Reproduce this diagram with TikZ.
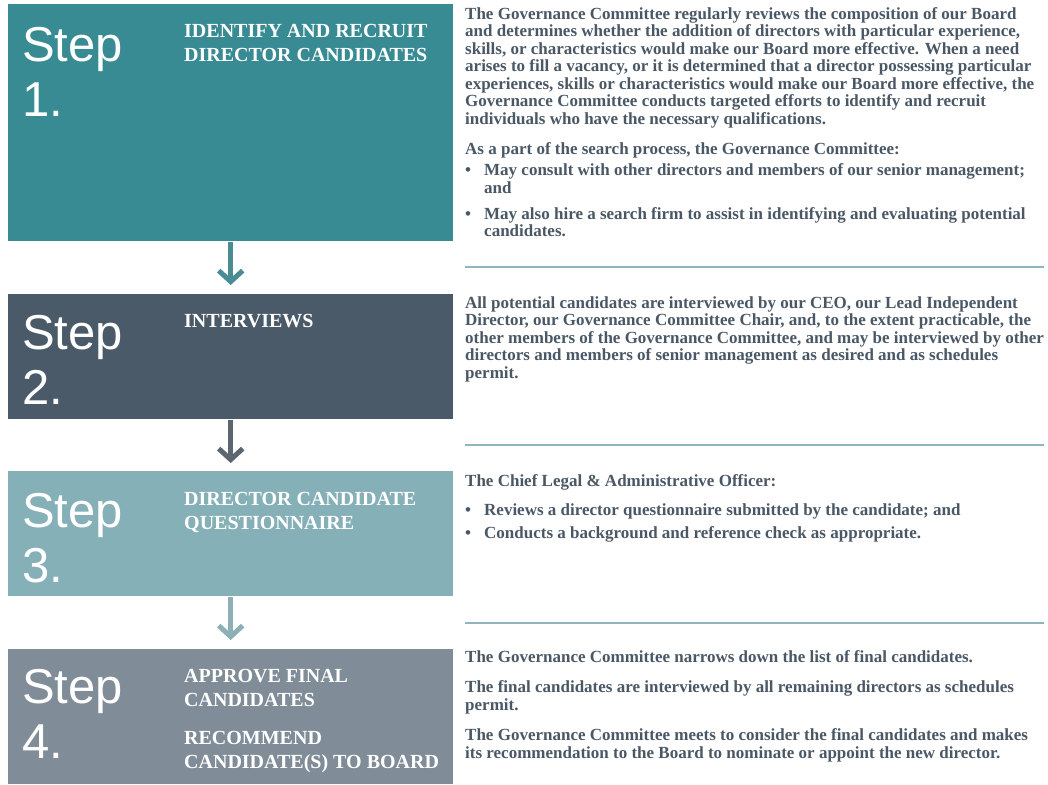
\documentclass[tikz,border=0pt]{standalone}
\usepackage{fontspec}
\setmainfont{Liberation Serif}
\newfontfamily\stepfont{Liberation Sans}
\usetikzlibrary{arrows.meta,positioning}
\definecolor{stepA}{HTML}{388A93}
\definecolor{stepB}{HTML}{4A5A68}
\definecolor{stepC}{HTML}{86B0B7}
\definecolor{stepD}{HTML}{808C98}
\definecolor{arrowA}{HTML}{4A8C94}
\definecolor{arrowB}{HTML}{5C6670}
\definecolor{arrowC}{HTML}{8DB0B6}
\definecolor{rulecol}{HTML}{8FB6BC}
\definecolor{bodytext}{HTML}{4A5866}
\newcommand{\bul}{\makebox[19pt][l]{\textbullet}}
\begin{document}
\begin{tikzpicture}[x=1pt,y=-1pt]
\tikzstyle{every node}+=[inner sep=0pt]
\tikzstyle{stepbox}=[anchor=north west,minimum width=445pt]
\tikzstyle{stepnum}=[anchor=north west,text=white,font=\stepfont\fontsize{49}{55}\selectfont,align=left]
\tikzstyle{steptitle}=[anchor=north west,text=white,font=\bfseries\fontsize{20}{24}\selectfont,align=left]
\tikzstyle{body}=[anchor=north west,text=bodytext,font=\bfseries\fontsize{17}{17.5}\selectfont,align=left]
\tikzstyle{flow}=[line width=5pt,-{Straight Barb[length=11pt,width=24pt,line width=5pt]}]
\tikzstyle{rule}=[draw=rulecol,line width=2pt]
\useasboundingbox (0,0) rectangle (1048,784);
\node[stepbox,fill=stepA,minimum height=237pt] (s1) at (8,4) {};
\node[stepbox,fill=stepB,minimum height=125pt] (s2) at (8,294) {};
\node[stepbox,fill=stepC,minimum height=125pt] (s3) at (8,471) {};
\node[stepbox,fill=stepD,minimum height=135pt] (s4) at (8,649) {};
\draw[flow,draw=arrowA,shorten <=1pt,shorten >=9pt] (s1.south) -- (s2.north);
\draw[flow,draw=arrowB,shorten <=1pt,shorten >=8pt] (s2.south) -- (s3.north);
\draw[flow,draw=arrowC,shorten <=1pt,shorten >=9pt] (s3.south) -- (s4.north);
\node[stepnum] (n1) at (22,27) {Step\\1.};
\node[stepnum] (n2) at (22,315) {Step\\2.};
\node[stepnum] (n3) at (22,493) {Step\\3.};
\node[stepnum] (n4) at (22,669) {Step\\4.};
\node[steptitle] (t1) at (184,24.5) {IDENTIFY AND RECRUIT\\DIRECTOR CANDIDATES};
\node[steptitle] (t2) at (184,314.5) {INTERVIEWS};
\node[steptitle] (t3) at (184,492.5) {DIRECTOR CANDIDATE\\QUESTIONNAIRE};
\node[steptitle] (t4a) at (184,669.5) {APPROVE FINAL\\CANDIDATES};
\node[steptitle] (t4b) at (184,731.5) {RECOMMEND\\CANDIDATE(S) TO BOARD};
\coordinate (r1a) at (465,267);
\coordinate (r1b) at (1044,267);
\coordinate (r2a) at (465,445);
\coordinate (r2b) at (1044,445);
\coordinate (r3a) at (465,623);
\coordinate (r3b) at (1044,623);
\draw[rule] (r1a) -- (r1b);
\draw[rule] (r2a) -- (r2b);
\draw[rule] (r3a) -- (r3b);
\node[body] (b1) at (465,7) {The Governance Committee regularly reviews the composition of our Board\\
and determines whether the addition of directors with particular experience,\\
skills, or characteristics would make our Board more effective. When a need\\
arises to fill a vacancy, or it is determined that a director possessing particular\\
experiences, skills or characteristics would make our Board more effective, the\\
Governance Committee conducts targeted efforts to identify and recruit\\
individuals who have the necessary qualifications.\\[13pt]
As a part of the search process, the Governance Committee:\\[3.5pt]
\bul May consult with other directors and members of our senior management;\\
\hspace*{19pt}and\\[8.5pt]
\bul May also hire a search firm to assist in identifying and evaluating potential\\
\hspace*{19pt}candidates.};
\node[body] (b2) at (465,296) {All potential candidates are interviewed by our CEO, our Lead Independent\\
Director, our Governance Committee Chair, and, to the extent practicable, the\\
other members of the Governance Committee, and may be interviewed by other\\
directors and members of senior management as desired and as schedules\\
permit.};
\node[body] (b3) at (465,474) {The Chief Legal \& Administrative Officer:\\[12pt]
\bul Reviews a director questionnaire submitted by the candidate; and\\[5.5pt]
\bul Conducts a background and reference check as appropriate.};
\node[body] (b4) at (465,650) {The Governance Committee narrows down the list of final candidates.\\[13pt]
The final candidates are interviewed by all remaining directors as schedules\\
permit.\\[13pt]
The Governance Committee meets to consider the final candidates and makes\\
its recommendation to the Board to nominate or appoint the new director.};
\end{tikzpicture}
\end{document}
